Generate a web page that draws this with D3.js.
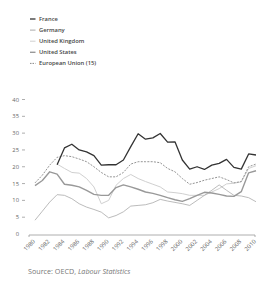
<!DOCTYPE html>
<html><head><meta charset="utf-8">
<script src="https://cdn.jsdelivr.net/npm/d3@7"></script>
<style>html,body{margin:0;padding:0;background:#fff;}svg{display:block;}</style>
</head><body>
<svg id="c" width="258" height="287"></svg>
<script>
const years = d3.range(1980, 2011);
const xTicks = d3.range(1980, 2011, 2);
const yTicks = [0, 5, 10, 15, 20, 25, 30, 35, 40];
const seriesNames = ["France", "Germany", "United Kingdom", "United States", "European Union (15)"];
// values from 1980 to 2010, null = no data
const france = [null,null,null,20.6,25.6,26.7,25,24.4,23.3,20.5,20.6,20.6,22,26,29.8,28.2,28.6,29.9,27.3,27.4,22,19.3,20,19.2,20.5,21,22.2,19.8,19.3,23.8,23.5];
const germany = [4.1,6.8,9.5,11.7,11.5,10.5,9,8,7.3,6.5,4.8,5.5,6.6,8.3,8.5,8.7,9.3,10.3,9.8,9.4,9,8.5,10,11.5,13,14.6,13,11.5,11.3,10.8,9.6];
const uk = [null,null,null,20.8,19.5,18.3,18.1,16.5,14,9,10,14.5,16.5,17.7,16.5,15.6,14.8,14,12.5,12.3,12,11.5,11.5,11.5,12.5,13.5,14.9,15.1,15.5,19.5,20.3];
const us = [14.4,15.9,18.5,17.8,14.8,14.5,14,13,11.8,11.5,11.5,13.8,14.6,14,13.3,12.5,12.1,11.5,10.8,10.2,9.7,10.5,11.5,12.4,12.2,11.8,11.3,11.2,12.6,18.2,18.8];
const eu15 = [15.2,17.5,20.5,22.8,23.3,23,22.3,21.5,20,18.3,17,17,18.3,20.8,21.5,21.5,21.5,21.2,19.5,18.5,16.5,14.8,15.3,16,16.5,17,16.2,15.2,15.6,20,20.8];

const styles = [
  {color:"#333", width:1.3, dash:null},
  {color:"#aaa", width:0.8, dash:null},
  {color:"#d0d0d0", width:1, dash:null},
  {color:"#999", width:1.4, dash:null},
  {color:"#888", width:0.9, dash:"2,1.3"}
];
const data = [france, germany, uk, us, eu15];

const svg = d3.select("#c");
const x = d3.scaleLinear().domain([1980, 2010]).range([35, 256]);
const y = d3.scaleLinear().domain([0, 40]).range([234, 99.5]);

// y axis labels
const ya = svg.append("g");
yTicks.forEach(t => {
  ya.append("text").attr("x", 19).attr("y", y(t)).attr("dy", "0.35em")
    .attr("text-anchor", "end").attr("font-family", "Open Sans").attr("font-size", 5.8)
    .attr("fill", "#666").text(t);
  if (t > 0) ya.append("line").attr("x1", 22).attr("x2", 25).attr("y1", y(t)).attr("y2", y(t))
    .attr("stroke", "#777").attr("stroke-width", 0.6);
});

// x axis
const xa = svg.append("g").attr("transform", "translate(0,235)");
xa.append("path").attr("d", `M29,2V0H255V2`).attr("fill", "none").attr("stroke", "#999").attr("stroke-width", 0.8);
xTicks.forEach(t => {
  xa.append("text").attr("transform", `translate(${x(t) - 1},5.5) rotate(-45)`)
    .attr("text-anchor", "end").attr("dy", "0.35em")
    .attr("font-family", "Open Sans").attr("font-size", 5.9).attr("fill", "#666").text(t);
});

// lines
const line = d3.line().defined(d => d != null).x((d, i) => x(years[i])).y(d => y(d));
const order = [2, 1, 3, 4, 0];
order.forEach(k => {
  svg.append("path").datum(data[k]).attr("d", line)
    .attr("fill", "none").attr("stroke", styles[k].color).attr("stroke-width", styles[k].width)
    .attr("stroke-dasharray", styles[k].dash).attr("stroke-linejoin", "round");
});

// legend
const lg = svg.append("g");
seriesNames.forEach((n, i) => {
  const yy = 19 + i * 11.1;
  lg.append("line").attr("x1", 30).attr("x2", 35.5).attr("y1", yy).attr("y2", yy)
    .attr("stroke", styles[i].color).attr("stroke-width", Math.max(styles[i].width, 1))
    .attr("stroke-dasharray", styles[i].dash ? "1.5,1" : null);
  lg.append("text").attr("x", 39).attr("y", yy).attr("dy", "0.35em")
    .attr("font-family", "Open Sans").attr("font-weight", 600).attr("font-size", 5.8)
    .attr("fill", "#444").text(n);
});

// source
const src = svg.append("text").attr("x", 28).attr("y", 274)
  .attr("font-family", "Open Sans").attr("font-size", 7.2).attr("fill", "#777");
src.append("tspan").text("Source: OECD, ");
src.append("tspan").attr("font-style", "italic").text("Labour Statistics");
</script>
</body></html>
